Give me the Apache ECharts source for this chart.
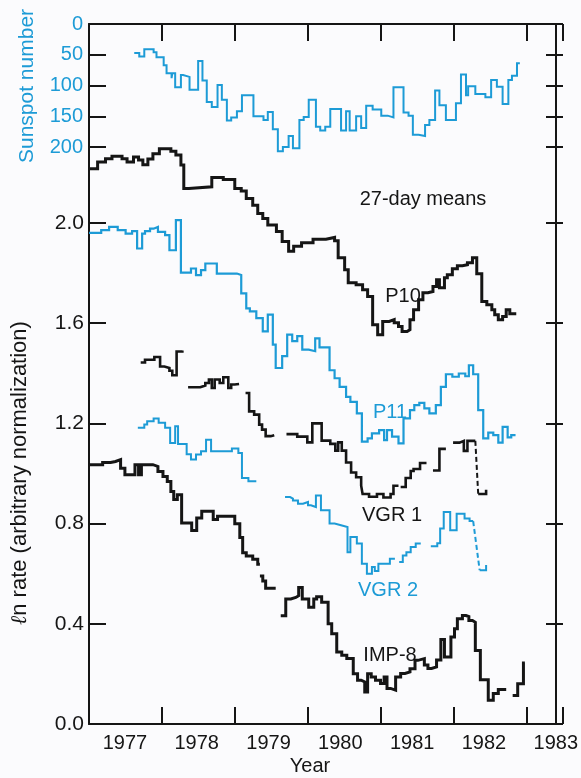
<!DOCTYPE html>
<html>
<head>
<meta charset="utf-8">
<script src="https://cdn.jsdelivr.net/npm/echarts@6/dist/echarts.min.js"></script>
<style>
html,body{margin:0;padding:0;background:#fbfbfd;}
#c{width:581px;height:778px;}
</style>
</head>
<body>
<div id="c"></div>
<script>
// ---- tick / label values ----
const yearLabels = [1977.5, 1978.5, 1979.5, 1980.5, 1981.5, 1982.5, 1983.5]; // year names centred in each year
const yearStep = 1;
const lnTickMax = 2.0, lnTickStep = 0.4;      // ln-rate ticks 0.0 … 2.0
const sunTickMax = 200, sunTickStep = 50;     // sunspot ticks 0 … 200

// ---- data: [year where 27-day level starts, value]; last entry = end of segment ----
const sunspot = [[1977.63,47],[1977.70,53],[1977.77,41],[1977.90,46],[1977.94,54],[1978.04,67],[1978.08,80],[1978.15,88],[1978.16,80],[1978.20,103],[1978.28,83],[1978.31,86],[1978.40,107],[1978.52,60],[1978.58,92],[1978.64,127],[1978.71,135],[1978.79,99],[1978.85,123],[1978.92,157],[1978.98,152],[1979.06,142],[1979.13,116],[1979.29,150],[1979.43,156],[1979.49,143],[1979.56,171],[1979.63,207],[1979.70,200],[1979.78,182],[1979.84,202],[1979.93,156],[1979.99,151],[1980.06,123],[1980.16,167],[1980.22,173],[1980.29,167],[1980.36,138],[1980.51,173],[1980.58,142],[1980.63,173],[1980.72,150],[1980.79,169],[1980.86,133],[1980.95,139],[1981.07,149],[1981.16,152],[1981.24,103],[1981.38,144],[1981.45,149],[1981.51,180],[1981.59,182],[1981.68,164],[1981.74,156],[1981.82,108],[1981.88,132],[1981.97,156],[1982.11,129],[1982.18,82],[1982.25,116],[1982.28,101],[1982.38,114],[1982.52,119],[1982.60,91],[1982.68,102],[1982.76,130],[1982.84,91],[1982.89,84],[1982.96,64],[1983.00,64]];

const p10 = [[1977.00,2.216],[1977.12,2.243],[1977.23,2.256],[1977.32,2.266],[1977.46,2.256],[1977.53,2.243],[1977.62,2.263],[1977.69,2.251],[1977.75,2.232],[1977.82,2.255],[1977.89,2.276],[1977.98,2.296],[1978.14,2.286],[1978.21,2.271],[1978.28,2.231],[1978.32,2.137],[1978.39,2.144],[1978.71,2.181],[1978.87,2.173],[1979.03,2.137],[1979.12,2.127],[1979.19,2.097],[1979.28,2.071],[1979.35,2.038],[1979.42,2.018],[1979.49,1.992],[1979.61,1.966],[1979.69,1.926],[1979.78,1.887],[1979.85,1.907],[1979.96,1.921],[1980.12,1.935],[1980.30,1.942],[1980.42,1.929],[1980.47,1.861],[1980.56,1.813],[1980.61,1.761],[1980.72,1.753],[1980.81,1.733],[1980.88,1.706],[1980.95,1.594],[1981.02,1.554],[1981.09,1.607],[1981.18,1.614],[1981.25,1.602],[1981.31,1.587],[1981.36,1.567],[1981.43,1.574],[1981.47,1.614],[1981.52,1.653],[1981.59,1.693],[1981.65,1.721],[1981.72,1.726],[1981.79,1.746],[1981.84,1.773],[1981.88,1.741],[1981.95,1.781],[1981.99,1.793],[1982.06,1.817],[1982.13,1.829],[1982.20,1.833],[1982.27,1.841],[1982.34,1.861],[1982.40,1.797],[1982.47,1.686],[1982.54,1.673],[1982.61,1.653],[1982.65,1.633],[1982.70,1.614],[1982.76,1.627],[1982.81,1.653],[1982.86,1.637],[1982.95,1.637]];

const p11 = [[1977.00,1.960],[1977.17,1.971],[1977.28,1.984],[1977.40,1.971],[1977.51,1.957],[1977.60,1.967],[1977.67,1.898],[1977.74,1.957],[1977.78,1.967],[1977.85,1.977],[1977.90,1.984],[1977.96,1.964],[1978.06,1.951],[1978.12,1.891],[1978.21,2.011],[1978.28,1.802],[1978.42,1.818],[1978.49,1.792],[1978.56,1.812],[1978.62,1.838],[1978.78,1.798],[1979.06,1.792],[1979.12,1.719],[1979.19,1.659],[1979.24,1.647],[1979.33,1.620],[1979.42,1.567],[1979.49,1.634],[1979.56,1.514],[1979.60,1.421],[1979.69,1.468],[1979.76,1.554],[1979.83,1.528],[1979.90,1.548],[1979.97,1.494],[1980.06,1.488],[1980.15,1.539],[1980.21,1.503],[1980.35,1.412],[1980.42,1.380],[1980.49,1.346],[1980.58,1.306],[1980.64,1.286],[1980.73,1.240],[1980.80,1.127],[1980.88,1.140],[1980.94,1.160],[1981.04,1.173],[1981.11,1.133],[1981.15,1.173],[1981.22,1.147],[1981.31,1.120],[1981.38,1.220],[1981.47,1.253],[1981.53,1.273],[1981.60,1.282],[1981.67,1.260],[1981.74,1.240],[1981.83,1.273],[1981.90,1.346],[1981.97,1.396],[1982.06,1.386],[1982.15,1.399],[1982.24,1.388],[1982.29,1.432],[1982.35,1.396],[1982.42,1.253],[1982.49,1.140],[1982.56,1.163],[1982.63,1.153],[1982.70,1.123],[1982.76,1.186],[1982.83,1.144],[1982.88,1.153],[1982.94,1.153]];

const vgr1A = [[1977.72,1.443],[1977.78,1.454],[1977.91,1.465],[1977.99,1.427],[1978.05,1.421],[1978.12,1.410],[1978.16,1.392],[1978.22,1.487],[1978.30,1.491]];
const vgr1B = [[1978.38,1.344],[1978.55,1.351],[1978.62,1.361],[1978.67,1.375],[1978.71,1.341],[1978.75,1.375],[1978.82,1.361],[1978.87,1.384],[1978.94,1.341],[1978.98,1.355],[1979.03,1.357],[1979.09,1.357]];
const vgr1C = [[1979.18,1.321],[1979.23,1.248],[1979.30,1.235],[1979.37,1.195],[1979.41,1.175],[1979.46,1.149],[1979.53,1.153],[1979.58,1.153]];
const vgr1D = [[1979.75,1.157],[1979.90,1.147],[1980.04,1.124],[1980.11,1.200],[1980.24,1.131],[1980.36,1.118],[1980.43,1.091],[1980.47,1.124],[1980.52,1.091],[1980.58,1.044],[1980.65,1.004],[1980.72,0.985],[1980.79,0.951],[1980.81,0.918],[1980.90,0.907],[1981.01,0.918],[1981.10,0.904],[1981.20,0.918],[1981.24,0.951],[1981.31,0.951]];
const vgr1E = [[1981.34,0.946],[1981.41,0.982],[1981.48,1.010],[1981.52,1.018],[1981.61,1.042],[1981.70,1.042]];
const vgr1F = [[1981.79,1.012],[1981.88,1.098],[1981.97,1.098]];
const vgr1G = [[1982.07,1.123],[1982.16,1.130],[1982.22,1.090],[1982.27,1.130],[1982.38,1.130]];
const vgr1Dash = [[1982.38,1.130],[1982.42,0.918]];
const vgr1H = [[1982.42,0.918],[1982.53,0.918],[1982.53,0.935]];

const vgr2A = [[1977.68,1.182],[1977.77,1.195],[1977.81,1.208],[1977.90,1.219],[1977.97,1.202],[1978.06,1.182],[1978.13,1.122],[1978.20,1.188],[1978.24,1.118],[1978.36,1.077],[1978.42,1.056],[1978.49,1.076],[1978.56,1.089],[1978.63,1.135],[1978.70,1.089],[1978.99,1.100],[1979.08,1.082],[1979.13,0.982],[1979.22,0.969],[1979.33,0.969]];
const vgr2B = [[1979.73,0.906],[1979.80,0.900],[1979.84,0.892],[1979.91,0.879],[1979.98,0.886],[1980.05,0.873],[1980.09,0.866],[1980.16,0.912],[1980.23,0.853],[1980.35,0.800],[1980.42,0.793],[1980.51,0.786],[1980.60,0.686],[1980.64,0.746],[1980.73,0.720],[1980.80,0.640],[1980.87,0.600],[1980.94,0.627],[1980.98,0.611],[1981.03,0.640],[1981.19,0.660],[1981.26,0.660]];
const vgr2C = [[1981.32,0.647],[1981.37,0.673],[1981.42,0.686],[1981.48,0.706],[1981.55,0.720],[1981.62,0.720]];
const vgr2D = [[1981.76,0.709],[1981.85,0.721],[1981.89,0.780],[1981.94,0.846],[1982.03,0.773],[1982.12,0.839],[1982.23,0.820],[1982.30,0.810],[1982.35,0.810]];
const vgr2Dash = [[1982.35,0.810],[1982.44,0.614]];
const vgr2E = [[1982.44,0.614],[1982.53,0.618],[1982.53,0.635]];

const imp8A = [[1977.00,1.035],[1977.19,1.044],[1977.30,1.048],[1977.37,1.055],[1977.44,1.021],[1977.50,0.995],[1977.64,1.035],[1977.69,0.995],[1977.73,1.035],[1977.89,1.028],[1977.96,1.008],[1978.03,0.988],[1978.09,0.968],[1978.14,0.928],[1978.18,0.896],[1978.23,0.915],[1978.29,0.802],[1978.43,0.772],[1978.50,0.822],[1978.57,0.849],[1978.73,0.816],[1978.79,0.829],[1979.03,0.799],[1979.10,0.744],[1979.14,0.684],[1979.19,0.671],[1979.28,0.658],[1979.35,0.638],[1979.38,0.638]];
const imp8B = [[1979.38,0.591],[1979.42,0.571],[1979.46,0.542],[1979.60,0.542]];
const imp8C = [[1979.67,0.432],[1979.74,0.499],[1979.81,0.505],[1979.88,0.512],[1979.92,0.545],[1979.97,0.499],[1980.06,0.466],[1980.13,0.499],[1980.17,0.508],[1980.24,0.486],[1980.33,0.400],[1980.38,0.360],[1980.45,0.287],[1980.52,0.274],[1980.59,0.261],[1980.68,0.201],[1980.74,0.175],[1980.79,0.168],[1980.84,0.128],[1980.88,0.201],[1980.93,0.188],[1980.99,0.175],[1981.06,0.162],[1981.11,0.188],[1981.15,0.142],[1981.20,0.135],[1981.27,0.188],[1981.34,0.202],[1981.40,0.208],[1981.47,0.221],[1981.54,0.254],[1981.58,0.261],[1981.67,0.235],[1981.72,0.222],[1981.77,0.228],[1981.84,0.255],[1981.90,0.337],[1981.95,0.267],[1982.04,0.347],[1982.09,0.380],[1982.13,0.420],[1982.20,0.433],[1982.25,0.429],[1982.29,0.413],[1982.34,0.406],[1982.38,0.293],[1982.45,0.177],[1982.56,0.095],[1982.63,0.122],[1982.70,0.138],[1982.81,0.138]];
const imp8D = [[1982.90,0.114],[1982.97,0.161],[1983.05,0.243],[1983.07,0.243]];

// ---- styling ----
const BLUE = '#1d9bd6';
const BLACK = '#151515';
const FONT = '"Liberation Sans", Arial, Helvetica, sans-serif';

const xMin = 1977, xMax = 1983.5;
const lnMax = 2.794, sunMax = 1138;            // full plot height in each unit
const W = 581, H = 778;
const PLOT_TOP = 24, PLOT_H = 700, PLOT_L = 89, PLOT_R = 18;
const PLOT_RIGHT_X = W - PLOT_R;
const lnPx = PLOT_H / lnMax, sunPx = PLOT_H / sunMax;
const lnTop = PLOT_TOP + PLOT_H - lnTickMax * lnPx, lnH = lnTickMax * lnPx;
const sunH = sunTickMax * sunPx;

function stepify(seg) {
  const out = [];
  for (let i = 0; i < seg.length - 1; i++) {
    out.push([seg[i][0], seg[i][1]]);
    out.push([seg[i + 1][0], seg[i][1]]);
  }
  const last = seg[seg.length - 1];
  out.push([last[0], last[1]]);
  return out;
}
function stepSeries(seg, color, width, yIdx) {
  return {
    type: 'line', data: stepify(seg), xAxisIndex: 0, yAxisIndex: yIdx || 0,
    symbol: 'none', silent: true, animation: false,
    lineStyle: { color: color, width: width, join: 'miter', cap: 'butt' }
  };
}
function dashSeries(seg, color, width) {
  return {
    type: 'line', data: seg, xAxisIndex: 0, yAxisIndex: 0,
    symbol: 'none', silent: true, animation: false,
    lineStyle: { color: color, width: width, type: [5, 3] }
  };
}

// Ticks are drawn by axes placed just outside the frame, so their outward ticks point into the plot.
function tickOut() { return { show: true, inside: false, length: 17, lineStyle: { color: BLACK, width: 2 } }; }
function frameLine() { return { show: true, onZero: false, lineStyle: { color: BLACK, width: 2 } }; }
function hiddenX(g) { return { gridIndex: g, type: 'value', min: xMin, max: xMax, show: false }; }
function hiddenY(g) { return { gridIndex: g, type: 'value', min: 0, max: 1, show: false }; }
function tickY(g, pos, max, step, inverse) {
  return { gridIndex: g, type: 'value', position: pos, min: 0, max: max, interval: step, inverse: !!inverse,
    splitLine: { show: false }, axisLine: { show: false }, axisTick: tickOut(), axisLabel: { show: false } };
}
function tickX(g, pos) {
  return { gridIndex: g, type: 'value', position: pos, min: xMin, max: xMax, interval: yearStep,
    splitLine: { show: false }, axisLine: { show: false, onZero: false }, axisTick: tickOut(), axisLabel: { show: false } };
}

const option = {
  backgroundColor: '#fbfbfd',
  animation: false,
  grid: [
    { left: PLOT_L, right: PLOT_R, top: PLOT_TOP, height: PLOT_H },            // 0 main plot
    { left: PLOT_L, right: PLOT_R, top: lnTop, height: lnH },                   // 1 ln labels
    { left: PLOT_L, right: PLOT_R, top: PLOT_TOP, height: sunH },               // 2 sunspot labels
    { left: 0, width: PLOT_L, top: lnTop, height: lnH },                        // 3 ln ticks, left
    { left: PLOT_RIGHT_X, width: PLOT_R, top: lnTop, height: lnH },             // 4 ln ticks, right
    { left: 0, width: PLOT_L, top: PLOT_TOP, height: sunH },                    // 5 sunspot ticks, left
    { left: PLOT_RIGHT_X, width: PLOT_R, top: PLOT_TOP, height: sunH },         // 6 sunspot ticks, right
    { left: PLOT_L, right: PLOT_R, top: PLOT_TOP + PLOT_H, height: H - PLOT_TOP - PLOT_H }, // 7 year ticks, bottom
    { left: PLOT_L, right: PLOT_R, top: 0, height: PLOT_TOP }                   // 8 year ticks, top
  ],
  xAxis: [
    {
      gridIndex: 0, type: 'value', position: 'bottom', min: xMin, max: xMax, interval: yearStep,
      splitLine: { show: false }, axisLine: frameLine(), axisTick: { show: false },
      axisLabel: { show: true, customValues: yearLabels, margin: 9, color: BLACK, fontSize: 20, fontFamily: FONT,
        formatter: v => String(Math.floor(v)) }
    },
    {
      gridIndex: 0, type: 'value', position: 'top', min: xMin, max: xMax, interval: yearStep,
      splitLine: { show: false }, axisLine: frameLine(), axisTick: { show: false }, axisLabel: { show: false }
    },
    hiddenX(1), hiddenX(2), hiddenX(3), hiddenX(4), hiddenX(5), hiddenX(6),
    tickX(7, 'top'), tickX(8, 'bottom')
  ],
  yAxis: [
    // 0: ln-rate data axis (left frame)
    { gridIndex: 0, type: 'value', position: 'left', min: 0, max: lnMax, splitLine: { show: false },
      axisLine: frameLine(), axisTick: { show: false }, axisLabel: { show: false } },
    // 1: right frame
    { gridIndex: 0, type: 'value', position: 'right', min: 0, max: lnMax, splitLine: { show: false },
      axisLine: frameLine(), axisTick: { show: false }, axisLabel: { show: false } },
    // 2: sunspot data axis (hidden, same full height, inverted)
    { gridIndex: 0, type: 'value', position: 'left', min: 0, max: sunMax, inverse: true, show: false },
    // 3: ln-rate labels 0.0 … 2.0
    { gridIndex: 1, type: 'value', position: 'left', min: 0, max: lnTickMax, interval: lnTickStep,
      splitLine: { show: false }, axisLine: { show: false }, axisTick: { show: false },
      axisLabel: { show: true, margin: 5, color: BLACK, fontSize: 21, fontFamily: FONT, formatter: v => v.toFixed(1) } },
    // 4: sunspot labels 0 … 200
    { gridIndex: 2, type: 'value', position: 'left', min: 0, max: sunTickMax, interval: sunTickStep, inverse: true,
      splitLine: { show: false }, axisLine: { show: false }, axisTick: { show: false },
      axisLabel: { show: true, margin: 6, color: BLUE, fontSize: 20, fontFamily: FONT } },
    // 5-8: tick marks pointing into the plot
    tickY(3, 'right', lnTickMax, lnTickStep),
    tickY(4, 'left', lnTickMax, lnTickStep),
    tickY(5, 'right', sunTickMax, sunTickStep, true),
    tickY(6, 'left', sunTickMax, sunTickStep, true),
    hiddenY(7), hiddenY(8)
  ],
  series: [
    stepSeries(sunspot, BLUE, 2, 2),
    stepSeries(p10, BLACK, 3),
    stepSeries(p11, BLUE, 2.2),
    stepSeries(vgr1A, BLACK, 2.6), stepSeries(vgr1B, BLACK, 2.6), stepSeries(vgr1C, BLACK, 2.6),
    stepSeries(vgr1D, BLACK, 2.6), stepSeries(vgr1E, BLACK, 2.6), stepSeries(vgr1F, BLACK, 2.6),
    stepSeries(vgr1G, BLACK, 2.6), dashSeries(vgr1Dash, BLACK, 2), stepSeries(vgr1H, BLACK, 2.6),
    stepSeries(vgr2A, BLUE, 2), stepSeries(vgr2B, BLUE, 2), stepSeries(vgr2C, BLUE, 2),
    stepSeries(vgr2D, BLUE, 2), dashSeries(vgr2Dash, BLUE, 2), stepSeries(vgr2E, BLUE, 2),
    stepSeries(imp8A, BLACK, 3), stepSeries(imp8B, BLACK, 3), stepSeries(imp8C, BLACK, 3), stepSeries(imp8D, BLACK, 3)
  ],
  graphic: [
    { type: 'text', x: 423, y: 199, style: { text: '27-day means', font: '20px ' + FONT, fill: BLACK, align: 'center', verticalAlign: 'middle' } },
    { type: 'text', x: 403, y: 296, style: { text: 'P10', font: '20px ' + FONT, fill: BLACK, align: 'center', verticalAlign: 'middle' } },
    { type: 'text', x: 390, y: 412, style: { text: 'P11', font: '20px ' + FONT, fill: BLUE, align: 'center', verticalAlign: 'middle' } },
    { type: 'text', x: 392, y: 515, style: { text: 'VGR 1', font: '20px ' + FONT, fill: BLACK, align: 'center', verticalAlign: 'middle' } },
    { type: 'text', x: 388, y: 590, style: { text: 'VGR 2', font: '20px ' + FONT, fill: BLUE, align: 'center', verticalAlign: 'middle' } },
    { type: 'text', x: 390, y: 655, style: { text: 'IMP-8', font: '20px ' + FONT, fill: BLACK, align: 'center', verticalAlign: 'middle' } },
    { type: 'text', x: 310, y: 766, style: { text: 'Year', font: '20px ' + FONT, fill: BLACK, align: 'center', verticalAlign: 'middle' } },
    { type: 'text', x: 27, y: 86, rotation: Math.PI / 2, style: { text: 'Sunspot number', font: '21px ' + FONT, fill: BLUE, align: 'center', verticalAlign: 'middle' } },
    { type: 'text', x: 20, y: 473, rotation: Math.PI / 2, style: {
        text: '{i|ℓ}n rate (arbitrary normalization)', font: '22px ' + FONT, fill: BLACK,
        align: 'center', verticalAlign: 'middle',
        rich: { i: { fontStyle: 'italic', fontFamily: 'DejaVu Serif', fontSize: 22, fill: BLACK } } } }
  ]
};

const chart = echarts.init(document.getElementById('c'), null, { renderer: 'canvas' });
chart.setOption(option);
</script>
</body>
</html>
